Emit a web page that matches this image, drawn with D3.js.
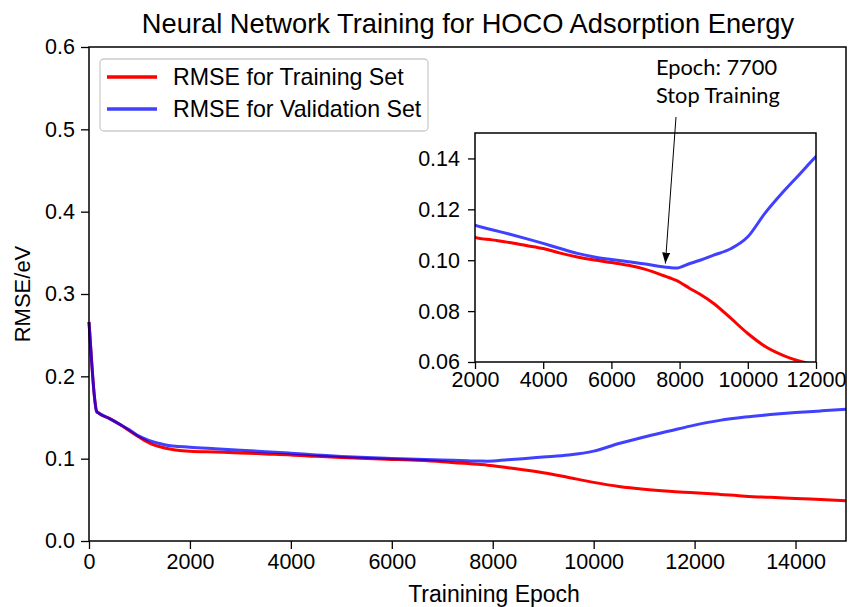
<!DOCTYPE html>
<html>
<head>
<meta charset="utf-8">
<script src="https://cdn.jsdelivr.net/npm/d3@7"></script>
<style>
  html, body { margin: 0; padding: 0; background: #fff; }
  svg { display: block; }
  text { font-family: "Liberation Sans", Arial, sans-serif; fill: #000; }
</style>
</head>
<body>
<svg id="chart" width="849" height="607"></svg>
<script>
// ---------- data ----------
const epochs = [0, 50, 100, 150, 200, 400, 600, 800, 1000, 1200, 1500, 2000, 2500, 3000, 3500, 4000, 4500, 5000, 5500, 6000, 6500, 7000, 7500, 7700, 7900, 8300, 8600, 9000, 9500, 10000, 10500, 11000, 11500, 12000, 12500, 13000, 13500, 14000, 14500, 15000];
const trainRMSE = [0.266, 0.22, 0.18, 0.158, 0.155, 0.149, 0.142, 0.134, 0.126, 0.119, 0.113, 0.109, 0.108, 0.107, 0.1058, 0.1046, 0.1028, 0.1013, 0.1001, 0.0991, 0.0980, 0.0964, 0.0941, 0.0931, 0.0921, 0.0889, 0.0866, 0.0830, 0.0772, 0.0712, 0.0662, 0.0628, 0.0604, 0.0586, 0.0566, 0.0545, 0.0530, 0.0517, 0.0503, 0.0489];
const validRMSE = [0.266, 0.22, 0.18, 0.157, 0.155, 0.149, 0.142, 0.135, 0.127, 0.122, 0.117, 0.1138, 0.1120, 0.1103, 0.1085, 0.1066, 0.1046, 0.1027, 0.1013, 0.1003, 0.0994, 0.0985, 0.0974, 0.0971, 0.0969, 0.0987, 0.1000, 0.1020, 0.1045, 0.1092, 0.1184, 0.1263, 0.1335, 0.1407, 0.1465, 0.1505, 0.1535, 0.1560, 0.1580, 0.1600];
const seriesNames = ["RMSE for Training Set", "RMSE for Validation Set"];
const mainXTicks = [0, 2000, 4000, 6000, 8000, 10000, 12000, 14000];
const mainYTicks = [0.0, 0.1, 0.2, 0.3, 0.4, 0.5, 0.6];
const insetXTicks = [2000, 4000, 6000, 8000, 10000, 12000];
const insetYTicks = [0.06, 0.08, 0.10, 0.12, 0.14];
const stopEpoch = 7700;
const stopRMSE = 0.0975;
const titleText = "Neural Network Training for HOCO Adsorption Energy";
const xLabel = "Trainining Epoch";
const yLabel = "RMSE/eV";
const annotationLines = ["Epoch: 7700", "Stop Training"];

// ---------- layout ----------
const svg = d3.select("#chart");
const M = { left: 89, right: 846, top: 47, bottom: 541 };
const I = { left: 475, right: 816, top: 133, bottom: 362 };
const RED = "#ff0000", BLUE = "#0000ff", BLUE_OP = 0.75;

const data = epochs.map((e, i) => ({ e, t: trainRMSE[i], v: validRMSE[i] }));

const x = d3.scaleLinear().domain([0, 15000]).range([M.left, M.right]);
const y = d3.scaleLinear().domain([0, 0.6]).range([M.bottom, M.top]);

// title
svg.append("text").attr("x", 468).attr("y", 33).attr("text-anchor", "middle")
  .style("font-size", "27.3px").text(titleText);

// main lines
const lineT = d3.line().x(d => x(d.e)).y(d => y(d.t)).curve(d3.curveMonotoneX);
const lineV = d3.line().x(d => x(d.e)).y(d => y(d.v)).curve(d3.curveMonotoneX);
svg.append("path").datum(data).attr("d", lineT).attr("fill", "none")
  .attr("stroke", RED).attr("stroke-width", 3);
svg.append("path").datum(data).attr("d", lineV).attr("fill", "none")
  .attr("stroke", BLUE).attr("stroke-opacity", BLUE_OP).attr("stroke-width", 3);

// main axes
function styleAxis(g) {
  g.selectAll("text").style("font-size", "21.5px").style("font-family", "'Liberation Sans', Arial, sans-serif").attr("fill", "#000");
  g.selectAll("line").attr("stroke", "#000").attr("stroke-width", 1.3);
  g.select(".domain").remove();
}
svg.append("g").attr("transform", `translate(0,${M.bottom})`)
  .call(d3.axisBottom(x).tickValues(mainXTicks).tickFormat(d3.format("d")).tickSize(8).tickPadding(5))
  .call(styleAxis);
svg.append("g").attr("transform", `translate(${M.left},0)`)
  .call(d3.axisLeft(y).tickValues(mainYTicks).tickFormat(d3.format(".1f")).tickSize(8).tickPadding(6))
  .call(styleAxis);
svg.append("rect").attr("x", M.left).attr("y", M.top)
  .attr("width", M.right - M.left).attr("height", M.bottom - M.top)
  .attr("fill", "none").attr("stroke", "#000").attr("stroke-width", 1.5);

// axis labels
svg.append("text").attr("x", 494).attr("y", 602).attr("text-anchor", "middle")
  .style("font-size", "23px").text(xLabel);
svg.append("text").attr("transform", `translate(30,${(M.top + M.bottom) / 2}) rotate(-90)`)
  .attr("text-anchor", "middle").style("font-size", "22px").text(yLabel);

// legend
const lg = svg.append("g");
lg.append("rect").attr("x", 100).attr("y", 59).attr("width", 328).attr("height", 72)
  .attr("rx", 4).attr("fill", "#fff").attr("fill-opacity", 0.8).attr("stroke", "#cccccc").attr("stroke-width", 1.3);
[RED, BLUE].forEach((c, i) => {
  const yy = 77 + i * 32;
  lg.append("line").attr("x1", 107).attr("x2", 157).attr("y1", yy).attr("y2", yy)
    .attr("stroke", c).attr("stroke-opacity", i === 1 ? BLUE_OP : 1).attr("stroke-width", 3.5);
  lg.append("text").attr("x", 173).attr("y", yy + 8).style("font-size", "23.2px").text(seriesNames[i]);
});

// ---------- inset ----------
const xi = d3.scaleLinear().domain([2000, 12000]).range([I.left, I.right]);
const yi = d3.scaleLinear().domain([0.06, 0.15]).range([I.bottom, I.top]);
svg.append("rect").attr("x", I.left).attr("y", I.top)
  .attr("width", I.right - I.left).attr("height", I.bottom - I.top).attr("fill", "#fff");
svg.append("clipPath").attr("id", "insetClip").append("rect")
  .attr("x", I.left).attr("y", I.top).attr("width", I.right - I.left).attr("height", I.bottom - I.top);
const ig = svg.append("g").attr("clip-path", "url(#insetClip)");
const lineTi = d3.line().x(d => xi(d.e)).y(d => yi(d.t)).curve(d3.curveMonotoneX);
const lineVi = d3.line().x(d => xi(d.e)).y(d => yi(d.v)).curve(d3.curveMonotoneX);
ig.append("path").datum(data).attr("d", lineTi).attr("fill", "none")
  .attr("stroke", RED).attr("stroke-width", 3);
ig.append("path").datum(data).attr("d", lineVi).attr("fill", "none")
  .attr("stroke", BLUE).attr("stroke-opacity", BLUE_OP).attr("stroke-width", 3);

svg.append("g").attr("transform", `translate(0,${I.bottom})`)
  .call(d3.axisBottom(xi).tickValues(insetXTicks).tickFormat(d3.format("d")).tickSize(7).tickPadding(3))
  .call(styleAxis);
svg.append("g").attr("transform", `translate(${I.left},0)`)
  .call(d3.axisLeft(yi).tickValues(insetYTicks).tickFormat(d3.format(".2f")).tickSize(7).tickPadding(8))
  .call(styleAxis);
svg.append("rect").attr("x", I.left).attr("y", I.top)
  .attr("width", I.right - I.left).attr("height", I.bottom - I.top)
  .attr("fill", "none").attr("stroke", "#000").attr("stroke-width", 1.5);

// annotation
svg.append("defs").append("marker").attr("id", "arrowHead")
  .attr("viewBox", "0 0 10 10").attr("refX", 10).attr("refY", 5)
  .attr("markerWidth", 11).attr("markerHeight", 8).attr("markerUnits", "userSpaceOnUse")
  .attr("orient", "auto").attr("preserveAspectRatio", "none")
  .append("path").attr("d", "M0,0 L10,5 L0,10 z").attr("fill", "#000");
const tipX = xi(stopEpoch) - 4, tipY = yi(stopRMSE) - 3;
svg.append("line").attr("x1", 676).attr("y1", 117).attr("x2", tipX).attr("y2", tipY)
  .attr("stroke", "#000").attr("stroke-width", 1).attr("marker-end", "url(#arrowHead)");
annotationLines.forEach((t, i) => {
  svg.append("text").attr("x", 656).attr("y", 75 + i * 28)
    .style("font-family", "Lato, 'Open Sans', sans-serif").style("font-size", "21.8px").text(t);
});
</script>
</body>
</html>
